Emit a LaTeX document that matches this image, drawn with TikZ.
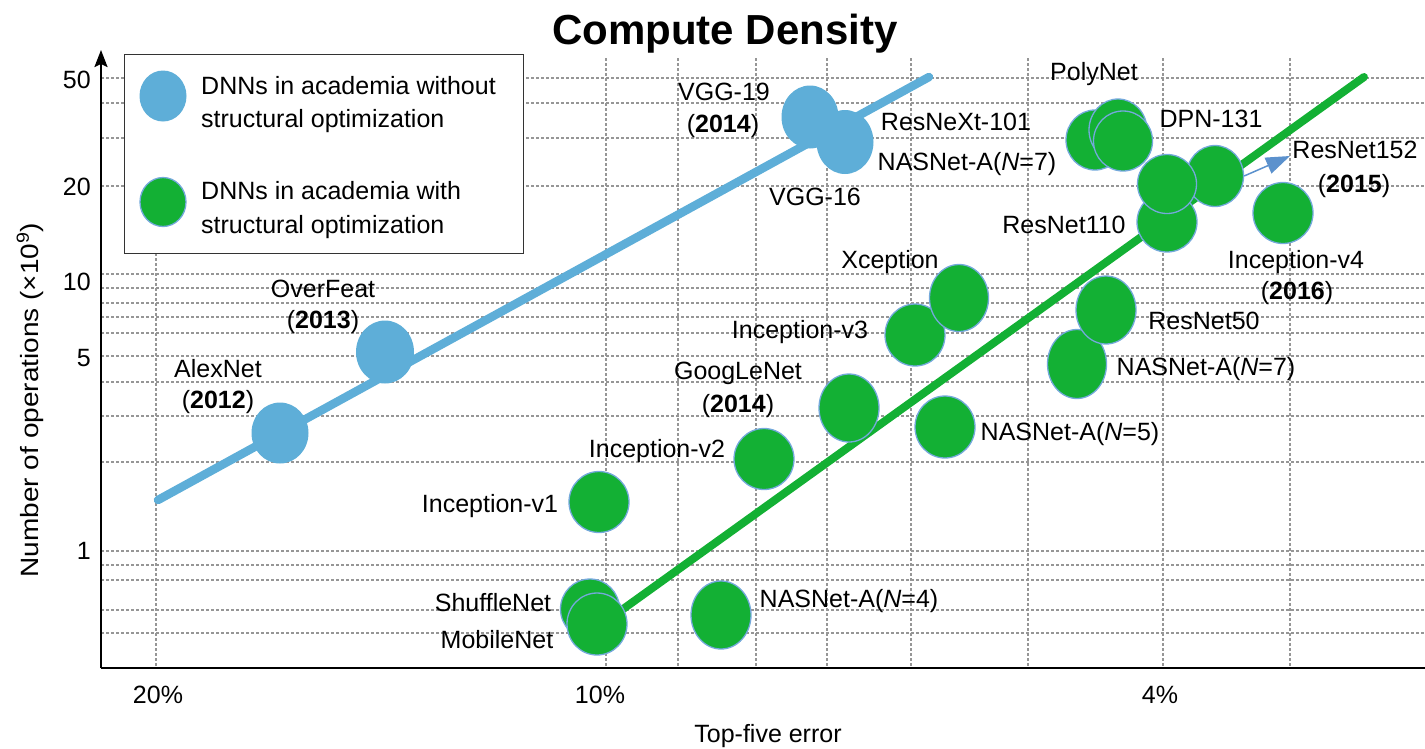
\documentclass[tikz,border=0pt]{standalone}
\usepackage{fontspec}
\setmainfont{Liberation Sans}
\usetikzlibrary{shapes.geometric,arrows.meta}
\definecolor{dnnblue}{RGB}{94,174,216}
\definecolor{dnngreen}{RGB}{19,176,52}
\definecolor{rimblue}{RGB}{116,169,219}
\definecolor{gridgray}{RGB}{150,150,150}
\definecolor{arrowblue}{RGB}{91,145,205}
\begin{document}
\begin{tikzpicture}[x=1pt,y=-1pt,
  lbl/.style={font=\fontsize{25}{30}\selectfont, inner sep=0pt, anchor=base},
  plain/.style={ellipse, fill=dnnblue, inner sep=0pt, minimum width=58pt, minimum height=63pt},
  opt/.style={ellipse, fill=dnngreen, draw=rimblue, line width=1.3pt, inner sep=0pt, minimum width=60pt, minimum height=63pt},
  gridline/.style={gridgray, line width=1.1pt, dash pattern=on 3pt off 2pt},
]
\path[use as bounding box] (0,0) rectangle (1425,748);

% dashed log grid
\foreach \gy in {78,103,138,186,274,288,303,317,333,356,382,416,462,551,565,580,610,633}
  \draw[gridline] (101,\gy) -- (1425,\gy);
\foreach \gx in {156,606,678,756,827,911,1028,1163,1290}
  \draw[gridline] (\gx,58) -- (\gx,668);

% axes
\coordinate (origin) at (101,668);
\coordinate (ytip) at (101,50);
\coordinate (xend) at (1425,668);
\draw[line width=2.4pt] (origin) -- (xend);
\draw[line width=2.2pt, -{Stealth[length=17pt,width=13pt,inset=3pt]}] (origin) -- (ytip);

% title and axis labels
\node[font=\fontsize{42}{50}\selectfont\bfseries, inner sep=0pt, anchor=base] (title) at (725,44) {Compute Density};
\node[lbl, rotate=90] (ylabel) at (38,400) {\scalebox{1.12}[1]{Number of operations (×10\textsuperscript{9})}};
\node[lbl] (xlabel) at (768,742) {Top-five error};
\node[lbl, anchor=base east] (t50) at (91,88) {50};
\node[lbl, anchor=base east] (t20) at (91,195) {20};
\node[lbl, anchor=base east] (t10) at (91,290) {10};
\node[lbl, anchor=base east] (t5) at (91,366) {5};
\node[lbl, anchor=base east] (t1) at (91,559) {1};
\node[lbl] (p20) at (158,703) {20\%};
\node[lbl] (p10) at (600,703) {10\%};
\node[lbl] (p4) at (1160,703) {4\%};

% trend lines
\coordinate (bs) at (158,500);
\coordinate (be) at (929,77);
\coordinate (gs) at (605,622);
\coordinate (ge) at (1364,77);
\draw[dnnblue, line width=8.5pt, line cap=round] (bs) -- (be);
\draw[dnngreen, line width=8pt, line cap=round] (gs) -- (ge);

% networks without structural optimization
\node[plain, minimum width=57pt, minimum height=61pt] (alexnet) at (280,433) {};
\node[plain] (overfeat) at (385,352) {};
\node[plain, minimum width=57pt] (vgg19) at (810,117) {};
\node[plain, minimum width=57pt, minimum height=64pt] (vgg16) at (845,142) {};

% networks with structural optimization
\node[opt, minimum height=61pt] (incv1) at (599,502) {};
\node[opt, minimum height=61pt] (incv2) at (764,459) {};
\node[opt, minimum height=68pt] (googlenet) at (849,408) {};
\node[opt, minimum height=62pt] (incv3) at (915,335) {};
\node[opt, minimum width=59pt, minimum height=67pt] (xception) at (959,298) {};
\node[opt, minimum height=62pt] (nasnet5) at (945,427) {};
\node[opt, minimum width=59pt, minimum height=69pt] (nasnet7b) at (1077,364) {};
\node[opt, minimum height=68pt] (resnet50) at (1106,310) {};
\node[opt, minimum height=61pt] (inceptionv4) at (1283,213) {};
\node[opt, minimum width=58pt, minimum height=60pt] (polya) at (1095,140) {};
\node[opt, minimum width=58pt, minimum height=62pt] (polyb) at (1118,130) {};
\node[opt, minimum width=59pt, minimum height=60pt] (polyc) at (1123,141) {};
\node[opt, minimum width=57pt, minimum height=61pt] (resnet152dot) at (1215,176) {};
\node[opt, minimum height=60pt] (resnet110) at (1167,222) {};
\node[opt, minimum width=59pt, minimum height=59pt] (dpn) at (1167,184) {};
\node[opt, minimum width=59pt, minimum height=60pt] (shufflenet) at (590,609) {};
\node[opt, minimum width=60pt, minimum height=62pt] (mobilenet) at (597,624) {};
\node[opt, minimum height=68pt] (nasnet4) at (721,615) {};

% pointer to ResNet152
\coordinate (ptrtip) at (1290,156);
\draw[arrowblue, line width=1.5pt, -{Triangle[length=24pt,width=17pt]}] (resnet152dot.east) -- (ptrtip);

% legend
\node[draw=black!80, line width=1.2pt, fill=white, minimum width=399pt, minimum height=199pt, anchor=north west, inner sep=0pt] (legend) at (124,54) {};
\node[plain, minimum width=47pt, minimum height=51pt] (keyplain) at (163,96) {};
\node[opt, minimum width=46pt, minimum height=49pt] (keyopt) at (163,202) {};
\node[lbl, anchor=base west] (keyplaina) at (201,94) {DNNs in academia without};
\node[lbl, anchor=base west] (keyplainb) at (201,127) {structural optimization};
\node[lbl, anchor=base west] (keyopta) at (201,199) {DNNs in academia with};
\node[lbl, anchor=base west] (keyoptb) at (201,233) {structural optimization};

% network names
\node[lbl] (lalex) at (218,377) {AlexNet};
\node[lbl] (lalexy) at (218,408) {(\textbf{2012})};
\node[lbl] (lover) at (323,297) {OverFeat};
\node[lbl] (lovery) at (323,328) {(\textbf{2013})};
\node[lbl] (lvgg19) at (724,100) {VGG-19};
\node[lbl] (lvgg19y) at (723,132) {(\textbf{2014})};
\node[lbl] (lvgg16) at (815,205) {VGG-16};
\node[lbl] (lresnext) at (956,130) {ResNeXt-101};
\node[lbl] (lnas7a) at (967,170) {NASNet-A(\textit{N}=7)};
\node[lbl] (lpoly) at (1094,80) {PolyNet};
\node[lbl] (ldpn) at (1211,127) {DPN-131};
\node[lbl] (lres152) at (1355,158) {ResNet152};
\node[lbl] (lres152y) at (1354,192) {(\textbf{2015})};
\node[lbl] (lres110) at (1064,233) {ResNet110};
\node[lbl] (lincv4) at (1296,268) {Inception-v4};
\node[lbl] (lincv4y) at (1297,299) {(\textbf{2016})};
\node[lbl] (lres50) at (1204,329) {ResNet50};
\node[lbl] (lxcep) at (890,268) {Xception};
\node[lbl] (lincv3) at (800,338) {Inception-v3};
\node[lbl] (lgoog) at (738,379) {GoogLeNet};
\node[lbl] (lgoogy) at (738,412) {(\textbf{2014})};
\node[lbl] (lincv2) at (657,457) {Inception-v2};
\node[lbl] (lincv1) at (490,512) {Inception-v1};
\node[lbl] (lnas7b) at (1206,375) {NASNet-A(\textit{N}=7)};
\node[lbl] (lnas5) at (1070,440) {NASNet-A(\textit{N}=5)};
\node[lbl] (lshuffle) at (493,611) {ShuffleNet};
\node[lbl] (lmobile) at (497,648) {MobileNet};
\node[lbl] (lnas4) at (849,607) {NASNet-A(\textit{N}=4)};
\end{tikzpicture}
\end{document}
